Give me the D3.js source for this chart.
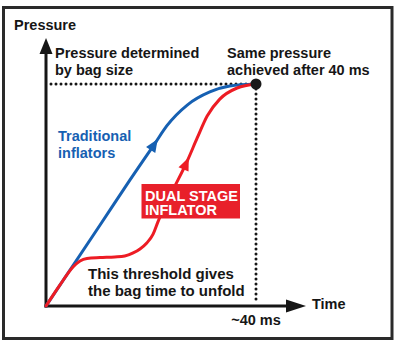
<!DOCTYPE html>
<html>
<head>
<meta charset="utf-8">
<script src="https://cdn.jsdelivr.net/npm/d3@7"></script>
<style>
  html, body { margin: 0; padding: 0; background: #fff; }
  svg { display: block; }
  text { font-family: "Liberation Sans", Arial, Helvetica, sans-serif; font-weight: bold; }
</style>
</head>
<body>
<svg id="chart" width="400" height="346"></svg>
<script>
// Time in ms, pressure as % of the final bag pressure
const traditionalTime     = [0, 10.3, 16, 20.8, 23, 26.9, 31.2, 35, 40];
const traditionalPressure = [0, 36.5, 56.8, 73.4, 81.1, 90.5, 96.4, 99.1, 100];

const dualStageTime     = [0, 2.67, 5.14, 6.48, 7.8, 10.3, 13.1, 15.0, 16.6, 17.9, 19.2, 20.4, 21.3, 24.0, 26.9, 28.8, 30.7, 33.1, 36.4, 40];
const dualStagePressure = [0, 9.5, 17.6, 20.3, 21.4, 21.8, 22.1, 22.5, 23.9, 25.7, 28.4, 32.4, 37.8, 51.4, 65.3, 75.7, 85.6, 93.2, 98.2, 100];

// Time at which the direction arrow sits on each curve
const arrowTimes = [21.3, 27.2];

const finalTime = 40;      // ms
const finalPressure = 100; // %

const axisLabels = ["Pressure", "Time"];
const tickLabels = ["~40 ms"];
const seriesLabels = [["Traditional", "inflators"], ["DUAL STAGE", "INFLATOR"]];
const notes = [
  ["Pressure determined", "by bag size"],
  ["Same pressure", "achieved after 40 ms"],
  ["This threshold gives", "the bag time to unfold"]
];

const BLUE = "#1660b2";
const RED = "#ed1c24";
const INK = "#161616";

const svg = d3.select("#chart");

const x = d3.scaleLinear().domain([0, finalTime]).range([46, 256]);
const y = d3.scaleLinear().domain([0, finalPressure]).range([306, 84]);

// Outer frame
svg.append("rect")
  .attr("x", 3.5).attr("y", 7.5).attr("width", 388.5).attr("height", 331)
  .attr("fill", "none").attr("stroke", "#2a2a2a").attr("stroke-width", 3);

// Axes with arrowheads
const ax = svg.append("g");
const x0 = x(0), y0 = y(0);
const yTip = 38, xTip = 306;
ax.append("line").attr("x1", x0).attr("y1", y0 + 1.5).attr("x2", x0).attr("y2", yTip + 10)
  .attr("stroke", INK).attr("stroke-width", 3);
ax.append("line").attr("x1", x0 - 1.5).attr("y1", y0).attr("x2", xTip - 10).attr("y2", y0)
  .attr("stroke", INK).attr("stroke-width", 3);
ax.append("path")
  .attr("d", `M${x0},${yTip} L${x0 + 6.5},${yTip + 16} L${x0 - 6.5},${yTip + 16} Z`)
  .attr("fill", INK);
ax.append("path")
  .attr("d", `M${xTip},${y0} L${xTip - 20},${y0 - 6.5} L${xTip - 20},${y0 + 6.5} Z`)
  .attr("fill", INK);

// Dotted guides to the final point
const dots = svg.append("g")
  .attr("stroke", INK).attr("stroke-width", 3)
  .attr("stroke-linecap", "round").attr("stroke-dasharray", "0 5").attr("fill", "none");
dots.append("line")
  .attr("x1", x(0) + 5).attr("y1", y(finalPressure))
  .attr("x2", x(finalTime)).attr("y2", y(finalPressure));
dots.append("line")
  .attr("x1", x(finalTime)).attr("y1", y(finalPressure))
  .attr("x2", x(finalTime)).attr("y2", y(0) - 4);

// Pressure curves
const line = d3.line()
  .x(d => x(d[0])).y(d => y(d[1]))
  .curve(d3.curveMonotoneX);

const series = [
  { t: traditionalTime, p: traditionalPressure, color: BLUE },
  { t: dualStageTime, p: dualStagePressure, color: RED }
];

series.forEach((s, i) => {
  const pts = s.t.map((t, k) => [t, s.p[k]]);
  const path = svg.append("path")
    .datum(pts)
    .attr("d", line)
    .attr("fill", "none")
    .attr("stroke", s.color)
    .attr("stroke-width", 3)
    .attr("stroke-linecap", "round");

  // Arrowhead placed on the curve at the given time, pointing along it
  const node = path.node();
  const total = node.getTotalLength();
  const targetX = x(arrowTimes[i]);
  let lo = 0, hi = total;
  for (let k = 0; k < 40; k++) {
    const mid = (lo + hi) / 2;
    if (node.getPointAtLength(mid).x < targetX) lo = mid; else hi = mid;
  }
  const L = (lo + hi) / 2;
  const tip = node.getPointAtLength(L);
  const back = node.getPointAtLength(Math.max(0, L - 4));
  const ang = Math.atan2(tip.y - back.y, tip.x - back.x) * 180 / Math.PI;
  svg.append("path")
    .attr("d", "M0,0 L-13,-5.5 L-13,5.5 Z")
    .attr("fill", s.color)
    .attr("transform", `translate(${tip.x},${tip.y}) rotate(${ang})`);
});

// Final point
svg.append("circle")
  .attr("cx", x(finalTime)).attr("cy", y(finalPressure)).attr("r", 5.5)
  .attr("fill", "#1a1a1a");

// Axis labels and tick
svg.append("text").attr("x", 14).attr("y", 29.5)
  .attr("font-size", 14.5).attr("fill", INK).text(axisLabels[0]);
svg.append("text").attr("x", 312).attr("y", 308.5)
  .attr("font-size", 14.5).attr("fill", INK).text(axisLabels[1]);
svg.append("text").attr("x", x(finalTime)).attr("y", 324.5)
  .attr("text-anchor", "middle")
  .attr("font-size", 14.5).attr("fill", INK).text(tickLabels[0]);

// Multi-line annotation helper
function block(lines, px, py, color, size, gap) {
  const t = svg.append("text").attr("x", px).attr("y", py)
    .attr("font-size", size).attr("fill", color);
  lines.forEach((s, i) => {
    t.append("tspan").attr("x", px).attr("dy", i === 0 ? 0 : gap).text(s);
  });
  return t;
}

block(notes[0], 55, 57.5, INK, 14.5, 17);
block(notes[1], 227, 58, INK, 14.5, 17);
block(notes[2], 88, 278.5, INK, 15, 17);
block(seriesLabels[0], 58, 141, BLUE, 14.5, 16.5);

// Dual stage label box
svg.append("rect")
  .attr("x", 141.5).attr("y", 184).attr("width", 98.5).attr("height", 34.5)
  .attr("fill", "#e8202a");
block(seriesLabels[1], 145, 200.5, "#fff", 14.5, 14.5);
</script>
</body>
</html>
